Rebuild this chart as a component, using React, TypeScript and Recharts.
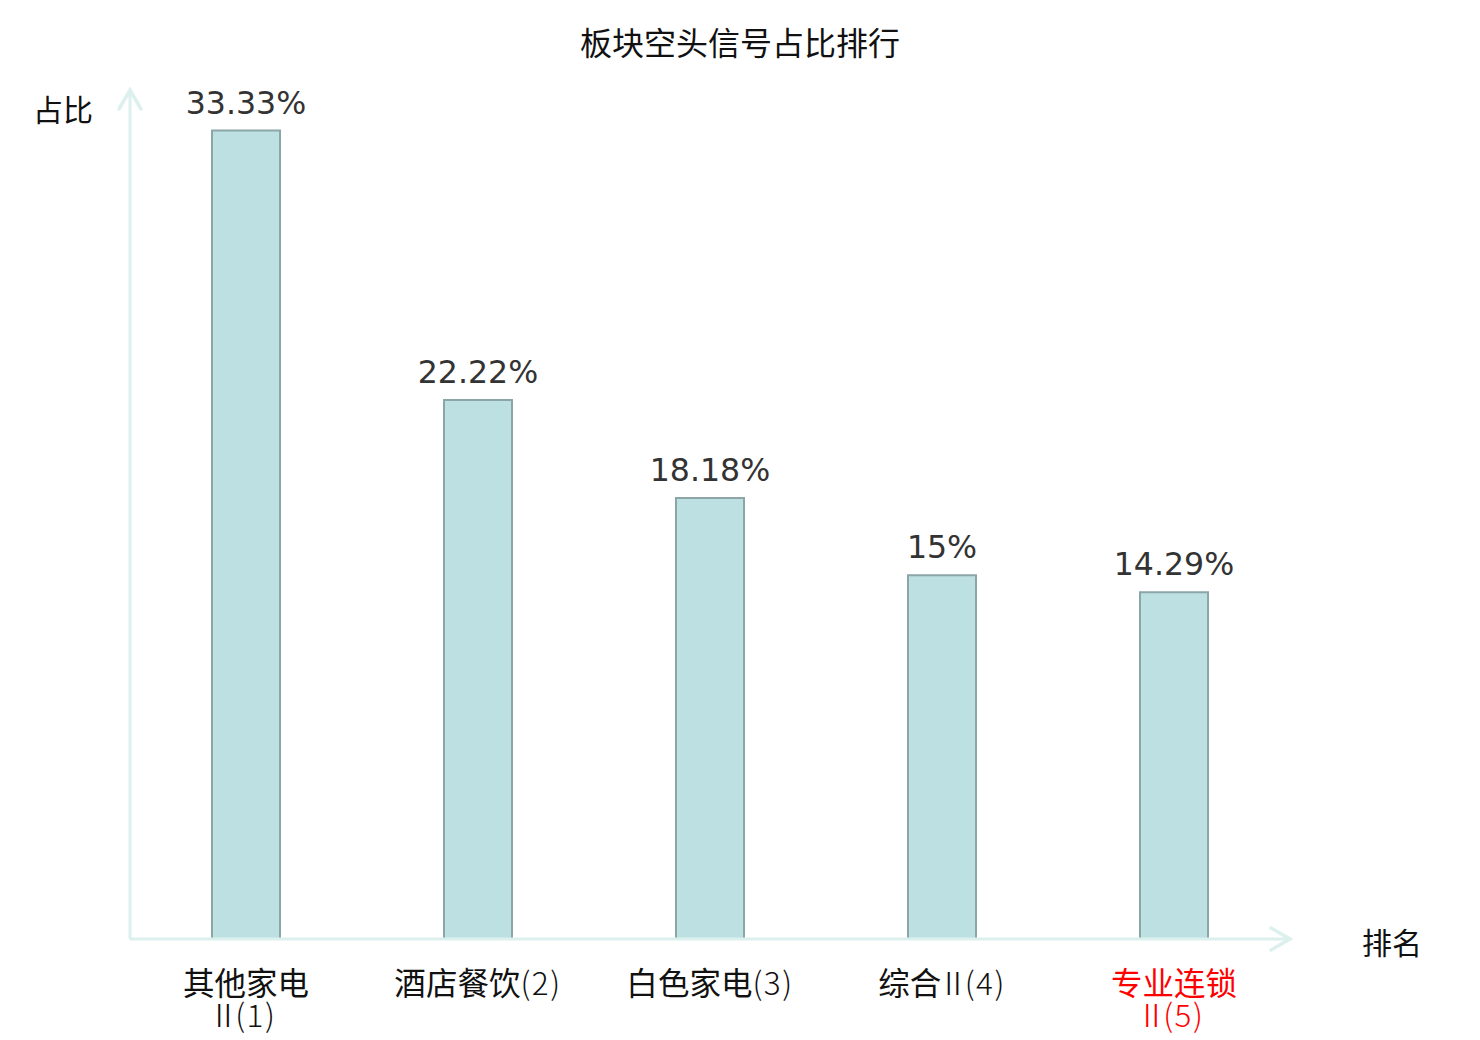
import { Bar, BarChart, LabelList, XAxis, YAxis } from 'recharts';

const categories = ['其他家电Ⅱ(1)', '酒店餐饮(2)', '白色家电(3)', '综合Ⅱ(4)', '专业连锁Ⅱ(5)'];
const shares = [33.33, 22.22, 18.18, 15, 14.29];
const highlighted = ['专业连锁Ⅱ(5)'];

const data = categories.map((name, i) => ({ name, share: shares[i] }));

const AXIS_COLOR = '#dcf0ed';
const CJK_FONT = "'Noto Sans CJK SC', sans-serif";

const isCjk = (ch: string) => /[\u3400-\u9fff\uf900-\ufaff]/.test(ch);
const emWidth = (s: string) => [...s].reduce((w, ch) => w + (isCjk(ch) ? 1 : 0.5), 0);

// split into single CJK chars and latin/number runs
function tokenize(label: string): string[] {
  const tokens: string[] = [];
  let run = '';
  for (const ch of label) {
    if (isCjk(ch)) {
      if (run) {
        tokens.push(run);
        run = '';
      }
      tokens.push(ch);
    } else {
      run += ch;
    }
  }
  if (run) tokens.push(run);
  return tokens;
}

function wrapLabel(label: string, maxEm = 5.6): string[][] {
  const lines: string[][] = [];
  let line: string[] = [];
  for (const t of tokenize(label)) {
    if (line.length && emWidth(line.join('') + t) > maxEm) {
      lines.push(line);
      line = [t];
    } else {
      line.push(t);
    }
  }
  if (line.length) lines.push(line);
  return lines;
}

// the roman numeral glyph has wide side bearings in Noto CJK, pull it in
function LatinRun({ text }: { text: string }) {
  const [numeral, rest] = text.startsWith('Ⅱ') ? ['Ⅱ', text.slice(1)] : ['', text];
  return (
    <>
      {numeral && (
        <tspan dx={-4} letterSpacing={-4} fontWeight={300}>
          {numeral}
        </tspan>
      )}
      <tspan fontWeight={300} letterSpacing={1.5}>
        {rest}
      </tspan>
    </>
  );
}

function CategoryTick({ x, y, payload }: any) {
  const lines = wrapLabel(payload.value);
  const color = highlighted.includes(payload.value) ? '#ff0000' : '#111';
  return (
    <text x={x} y={y} textAnchor="middle" fill={color} fontSize={31.5} fontFamily={CJK_FONT}>
      {lines.map((parts, i) => (
        <tspan key={i} x={x} dy={i === 0 ? 56 : 32}>
          {parts.map((p, j) => (isCjk(p) ? <tspan key={j}>{p}</tspan> : <LatinRun key={j} text={p} />))}
        </tspan>
      ))}
    </text>
  );
}

export default function App() {
  return (
    <div style={{ position: 'relative', width: 1464, height: 1032 }}>
      <div
        style={{
          position: 'absolute',
          top: 17,
          left: 0,
          width: '100%',
          textAlign: 'center',
          fontSize: 32,
          lineHeight: '32px',
          fontFamily: CJK_FONT,
          color: '#111',
        }}
      >
        板块空头信号占比排行
      </div>
      <BarChart
        width={1464}
        height={1032}
        data={data}
        margin={{ top: 82, right: 182, bottom: 11, left: 22 }}
        barCategoryGap={0}
      >
        <defs>
          <marker
            id="axisArrow"
            viewBox="-3 -3 27 28"
            refX={20}
            refY={11}
            markerWidth={27}
            markerHeight={28}
            markerUnits="userSpaceOnUse"
            orient="auto-start-reverse"
          >
            <path d="M1,0 L20,11 L1,22" fill="none" stroke={AXIS_COLOR} strokeWidth={3.5} strokeLinecap="round" />
          </marker>
        </defs>
        <XAxis
          dataKey="name"
          height={90}
          tickLine={false}
          tickSize={0}
          tickMargin={0}
          interval={0}
          tick={<CategoryTick />}
          axisLine={{ stroke: AXIS_COLOR, strokeWidth: 3, markerEnd: 'url(#axisArrow)' }}
          label={{
            content: ({ viewBox }: any) => (
              <text
                x={viewBox.x + viewBox.width + 72}
                y={viewBox.y + 15}
                fontSize={30}
                fontFamily={CJK_FONT}
                fill="#111"
              >
                排名
              </text>
            ),
          }}
        />
        <YAxis
          width={100}
          domain={[0, 35]}
          tick={false}
          tickLine={false}
          axisLine={{ stroke: AXIS_COLOR, strokeWidth: 3, markerStart: 'url(#axisArrow)' }}
          label={{
            content: ({ viewBox }: any) => (
              <text x={viewBox.x + 3} y={viewBox.y + 31} fontSize={30} fontFamily={CJK_FONT} fill="#111">
                占比
              </text>
            ),
          }}
        />
        <Bar dataKey="share" barSize={68} fill="#bde0e3" stroke="#8ca5a7" strokeWidth={2} isAnimationActive={false}>
          <LabelList
            dataKey="share"
            position="top"
            offset={17}
            formatter={(v: any) => `${v}%`}
            fill="#333"
            fontSize={31.6}
            fontFamily="'DejaVu Sans', sans-serif"
          />
        </Bar>
      </BarChart>
    </div>
  );
}
